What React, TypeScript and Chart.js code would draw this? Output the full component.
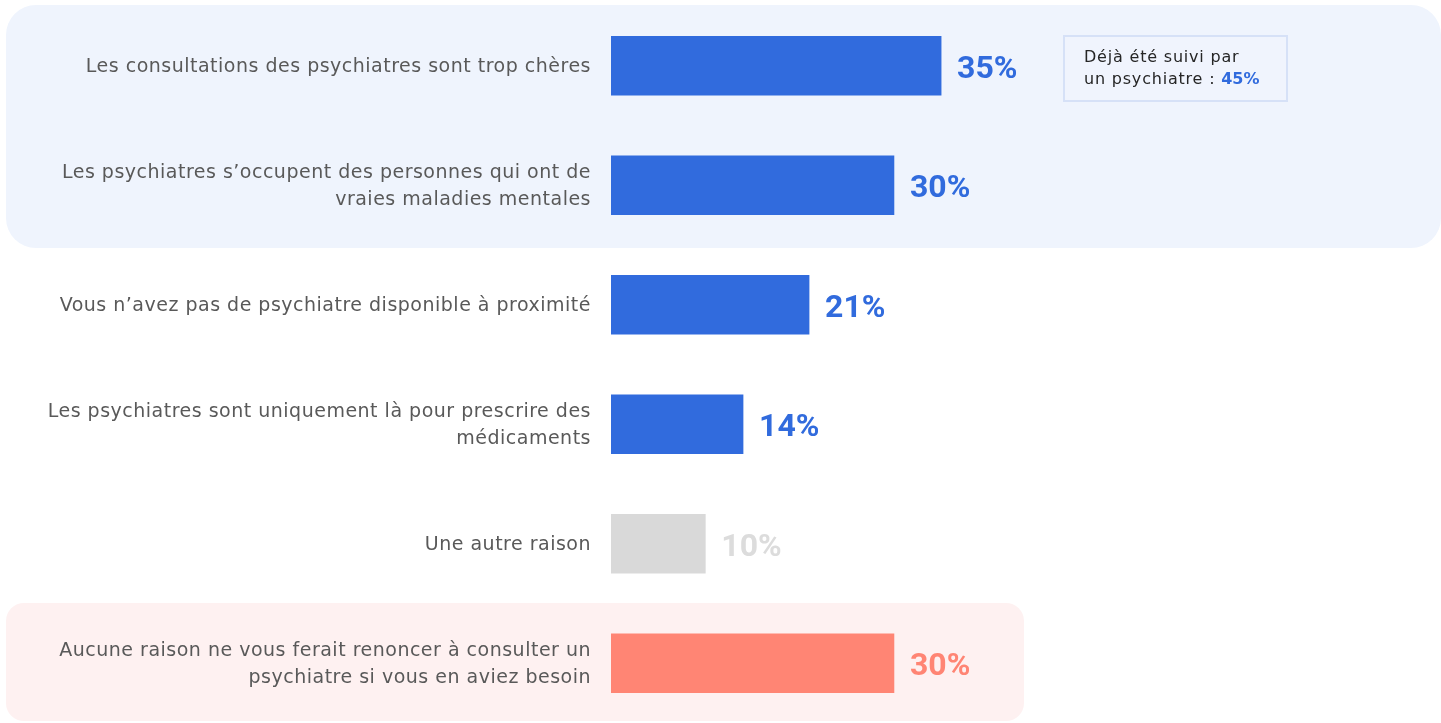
import { useEffect, useRef } from "react";
import { Chart, registerables } from "chart.js";

Chart.register(...registerables);

const categories: string[][] = [
  ["Les consultations des psychiatres sont trop chères"],
  ["Les psychiatres s’occupent des personnes qui ont de", "vraies maladies mentales"],
  ["Vous n’avez pas de psychiatre disponible à proximité"],
  ["Les psychiatres sont uniquement là pour prescrire des", "médicaments"],
  ["Une autre raison"],
  ["Aucune raison ne vous ferait renoncer à consulter un", "psychiatre si vous en aviez besoin"],
];
const values: number[] = [35, 30, 21, 14, 10, 30];
const barColors: string[] = ["#316BDD", "#316BDD", "#316BDD", "#316BDD", "#D9D9D9", "#FF8574"];
const valueLabelColors: string[] = ["#316BDD", "#316BDD", "#316BDD", "#316BDD", "#DCDCDC", "#FF8574"];
const calloutLines: string[] = ["Déjà été suivi par", "un psychiatre : "];
const calloutValue = "45%";

const W = 1441;
const H = 723;

export default function App() {
  const ref = useRef<HTMLCanvasElement | null>(null);

  useEffect(() => {
    if (!ref.current) return;

    const panels = {
      id: "panels",
      beforeDraw(chart: any) {
        const { ctx } = chart;
        const y = chart.scales.y;
        const band = y.getPixelForValue(1) - y.getPixelForValue(0);
        ctx.save();
        const bTop = y.getPixelForValue(0) - band / 2 - 1;
        const bBot = y.getPixelForValue(1) + band / 2 + 3;
        ctx.fillStyle = "#EFF4FD";
        ctx.beginPath();
        ctx.roundRect(6, bTop, W - 6, bBot - bTop, 30);
        ctx.fill();
        const pTop = y.getPixelForValue(5) - band / 2 - 0.5;
        const pBot = H - 2;
        ctx.fillStyle = "#FEF1F1";
        ctx.beginPath();
        ctx.roundRect(6, pTop, 1018, pBot - pTop, 18);
        ctx.fill();
        ctx.restore();
      },
    };

    const categoryLabels = {
      id: "categoryLabels",
      afterDraw(chart: any) {
        const { ctx } = chart;
        const y = chart.scales.y;
        const right = chart.chartArea.left - 21;
        const lh = 27;
        ctx.save();
        ctx.font = "19px 'DejaVu Sans'";
        (ctx as any).letterSpacing = "0.5px";
        ctx.fillStyle = "#595959";
        ctx.textAlign = "right";
        ctx.textBaseline = "middle";
        categories.forEach((lines, i) => {
          const cy = y.getPixelForValue(i);
          const start = cy - ((lines.length - 1) * lh) / 2 + 1;
          lines.forEach((ln, j) => {
            ctx.fillText(ln, right + 1, start + j * lh);
          });
        });
        ctx.restore();
      },
    };

    const valueLabels = {
      id: "valueLabels",
      afterDatasetsDraw(chart: any) {
        const { ctx } = chart;
        const meta = chart.getDatasetMeta(0);
        ctx.save();
        ctx.font = "bold 32px Roboto";
        ctx.textBaseline = "middle";
        ctx.textAlign = "left";
        meta.data.forEach((bar: any, i: number) => {
          ctx.fillStyle = valueLabelColors[i];
          ctx.fillText(values[i] + "%", bar.x + 16, bar.y + 4);
        });
        ctx.restore();
      },
    };

    const callout = {
      id: "callout",
      afterDraw(chart: any) {
        const { ctx } = chart;
        ctx.save();
        ctx.fillStyle = "#F0F4FD";
        ctx.strokeStyle = "#D6E1F7";
        ctx.lineWidth = 2;
        ctx.fillRect(1064, 36, 223, 65);
        ctx.strokeRect(1064, 36, 223, 65);
        ctx.fillStyle = "#262626";
        ctx.font = "16px 'DejaVu Sans'";
        (ctx as any).letterSpacing = "0.8px";
        ctx.textBaseline = "middle";
        ctx.fillText(calloutLines[0], 1084, 58);
        ctx.fillText(calloutLines[1], 1084, 80);
        const w = ctx.measureText(calloutLines[1]).width;
        ctx.fillStyle = "#316BDD";
        ctx.font = "bold 16px 'DejaVu Sans'";
        (ctx as any).letterSpacing = "0px";
        ctx.fillText(calloutValue, 1084 + w, 80);
        ctx.restore();
      },
    };

    const chart = new Chart(ref.current, {
      type: "bar",
      data: {
        labels: categories.map((c) => c.join(" ")),
        datasets: [
          {
            data: values,
            backgroundColor: barColors,
            borderWidth: 0,
            barThickness: 59,
          },
        ],
      },
      options: {
        indexAxis: "y",
        animation: false,
        responsive: true,
        maintainAspectRatio: false,
        layout: { padding: { top: 6, bottom: 0, left: 611, right: 0 } },
        plugins: {
          legend: { display: false },
          tooltip: { enabled: false },
        },
        scales: {
          x: {
            display: false,
            min: 0,
            max: 88,
          },
          y: {
            display: false,
          },
        },
      },
      plugins: [panels, categoryLabels, valueLabels, callout],
    });

    return () => chart.destroy();
  }, []);

  return (
    <div style={{ position: "absolute", left: 0, top: 0, width: W, height: H, background: "#fff" }}>
      <canvas ref={ref} />
    </div>
  );
}
